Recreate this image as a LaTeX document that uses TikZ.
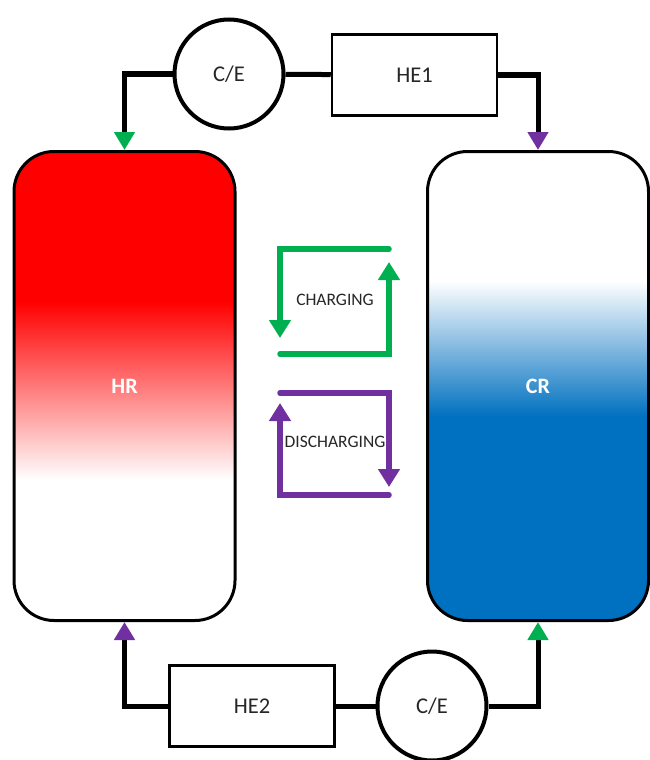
\documentclass[tikz,border=0pt]{standalone}
\usepackage{fontspec}
\setmainfont{Carlito}
\usetikzlibrary{arrows.meta}
\definecolor{crblue}{HTML}{0070C0}
\definecolor{hrred}{HTML}{FF0000}
\definecolor{chg}{HTML}{00B050}
\definecolor{dis}{HTML}{7030A0}
\definecolor{txt}{HTML}{262626}
\pgfdeclareverticalshading{hrshade}{100bp}{color(0bp)=(white); color(40bp)=(white); color(59bp)=(hrred); color(100bp)=(hrred)}
\pgfdeclareverticalshading{crshade}{100bp}{color(0bp)=(crblue); color(46.7bp)=(crblue); color(61.2bp)=(white); color(100bp)=(white)}
\begin{document}
\begin{tikzpicture}[x=1pt,y=-1pt,
  tank/.style={draw=black, line width=3pt, rounded corners=40pt, minimum width=221pt, minimum height=469pt, text=white, font=\fontsize{22}{26}\selectfont\bfseries},
  cebox/.style={draw=black, circle, line width=4pt, minimum size=109pt, fill=white, text=txt, font=\fontsize{22.5}{26}\selectfont},
  hebox/.style={draw=black, line width=2.5pt, minimum width=165pt, minimum height=81pt, fill=white, text=txt, font=\fontsize{22.5}{26}\selectfont},
  pipe/.style={draw=black, line width=5pt},
  gtip/.style={-{Triangle[length=18pt,width=20pt,color=chg]}},
  ptip/.style={-{Triangle[length=18pt,width=20pt,color=dis]}},
  loopg/.style={draw=chg, line width=5.5pt, line cap=round, -{Triangle[length=18pt,width=21pt]}},
  loopp/.style={draw=dis, line width=5.5pt, line cap=round, -{Triangle[length=18pt,width=21pt]}},
  lbl/.style={text=txt, font=\fontsize{17.5}{20}\selectfont}]
\useasboundingbox (0,0) rectangle (649,760);
% tanks
\node[tank, shading=hrshade] (HR) at (124.5,386) {HR};
\node[tank, shading=crshade] (CR) at (538,386) {CR};
% top loop
\node[cebox] (CE1) at (229,74) {C/E};
\node[hebox] (HE1) at (414.5,75) {HE1};
\draw[pipe] (CE1) -- (HE1);
\draw[pipe, gtip] (CE1.west) -| (HR.north);
\draw[pipe, ptip] (HE1.east) -| (CR.north);
% bottom loop
\node[hebox] (HE2) at (252,706) {HE2};
\node[cebox] (CE2) at (432,706) {C/E};
\draw[pipe] (HE2) -- (CE2);
\draw[pipe, ptip] (HE2.west) -| (HR.south);
\draw[pipe, gtip] (CE2.east) -| (CR.south);
% legend
\coordinate (g1) at (389,249);
\coordinate (g2) at (280,249);
\coordinate (g3) at (280,338);
\coordinate (g4) at (280,354);
\coordinate (g5) at (389,354);
\coordinate (g6) at (389,262);
\draw[loopg] (g1) -- (g2) -- (g3);
\draw[loopg] (g4) -- (g5) -- (g6);
\node[lbl] (chl) at (335,300) {CHARGING};
\coordinate (p1) at (280,393);
\coordinate (p2) at (389,393);
\coordinate (p3) at (389,487);
\coordinate (p4) at (389,495);
\coordinate (p5) at (280,495);
\coordinate (p6) at (280,403);
\draw[loopp] (p1) -- (p2) -- (p3);
\draw[loopp] (p4) -- (p5) -- (p6);
\node[lbl] (dcl) at (335,442) {DISCHARGING};
\end{tikzpicture}
\end{document}
